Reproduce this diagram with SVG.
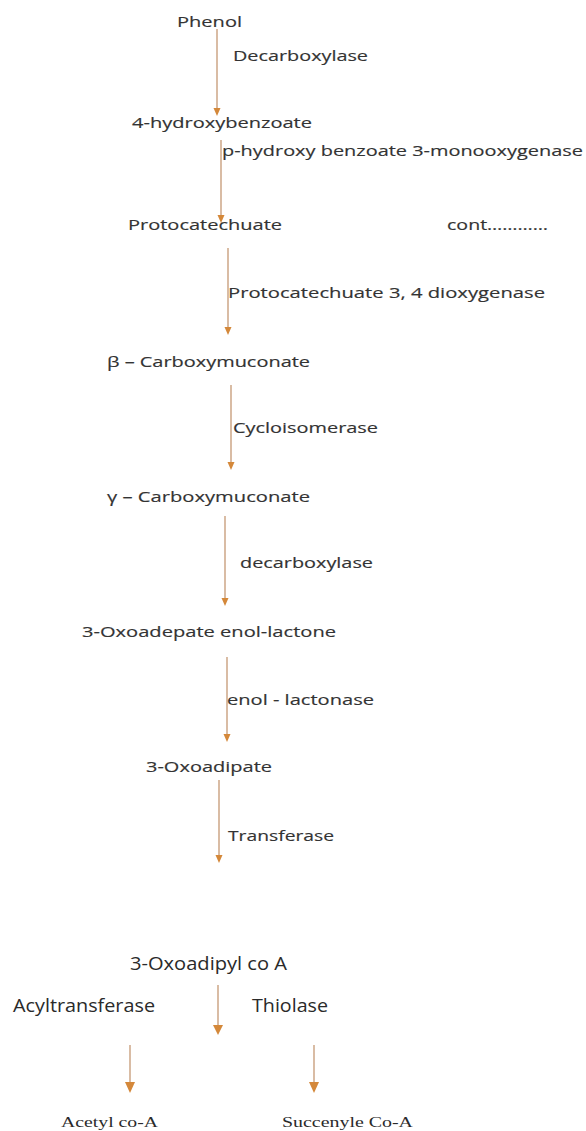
<svg xmlns="http://www.w3.org/2000/svg" width="586" height="1131" viewBox="0 0 586 1131">
<style>
  .t { font-family: "Open Sans", "Liberation Sans", sans-serif; font-size: 14px; fill: #333333; stroke: #333333; stroke-width: 0.15; }
  .tb { font-family: "Open Sans", "Liberation Sans", sans-serif; font-size: 18px; fill: #2a2a2a; }
  .ts { font-family: "Liberation Serif", "DejaVu Serif", serif; font-size: 15px; fill: #2a2a2a; }
  .ln { stroke: #c9a07e; stroke-width: 1.4; fill: none; }
  .hd { fill: #d4883a; }
</style>
<rect width="586" height="1131" fill="#ffffff"/>
<g id="connectors">
  <line class="ln" x1="217" y1="29" x2="217" y2="109"/><polygon class="hd" points="213.5,108 220.5,108 217,116"/>
  <line class="ln" x1="221" y1="140" x2="221" y2="216"/><polygon class="hd" points="217.5,215 224.5,215 221,223"/>
  <line class="ln" x1="228" y1="248" x2="228" y2="328"/><polygon class="hd" points="224.5,327 231.5,327 228,335"/>
  <line class="ln" x1="231" y1="385" x2="231" y2="463"/><polygon class="hd" points="227.5,462 234.5,462 231,470"/>
  <line class="ln" x1="225" y1="516" x2="225" y2="599"/><polygon class="hd" points="221.5,598 228.5,598 225,606"/>
  <line class="ln" x1="227" y1="657" x2="227" y2="735"/><polygon class="hd" points="223.5,734 230.5,734 227,742"/>
  <line class="ln" x1="219" y1="780" x2="219" y2="856"/><polygon class="hd" points="215.5,855 222.5,855 219,863"/>
  <line class="ln" x1="218" y1="985" x2="218" y2="1026"/><polygon class="hd" points="213,1025 223,1025 218,1035"/>
  <line class="ln" x1="130" y1="1045" x2="130" y2="1083"/><polygon class="hd" points="125,1082 135,1082 130,1093"/>
  <line class="ln" x1="314" y1="1045" x2="314" y2="1083"/><polygon class="hd" points="309,1082 319,1082 314,1093"/>
</g>
<g id="phenol"><text class="t" x="177" y="27" textLength="65" lengthAdjust="spacingAndGlyphs">Phenol</text></g>
<g id="lbl-decarboxylase1"><text class="t" x="233" y="61" textLength="135" lengthAdjust="spacingAndGlyphs">Decarboxylase</text></g>
<g id="hydroxybenzoate"><text class="t" x="132" y="128" textLength="180" lengthAdjust="spacingAndGlyphs">4-hydroxybenzoate</text></g>
<g id="lbl-monooxygenase"><text class="t" x="222" y="156" textLength="361" lengthAdjust="spacingAndGlyphs">p-hydroxy benzoate 3-monooxygenase</text></g>
<g id="protocatechuate"><text class="t" x="128" y="230" textLength="154" lengthAdjust="spacingAndGlyphs">Protocatechuate</text></g>
<g id="cont"><text class="t" x="447" y="230" textLength="101" lengthAdjust="spacingAndGlyphs">cont…………</text></g>
<g id="lbl-dioxygenase"><text class="t" x="228" y="298" textLength="317" lengthAdjust="spacingAndGlyphs">Protocatechuate 3, 4 dioxygenase</text></g>
<g id="beta-carboxymuconate"><text class="t" x="107" y="367" textLength="203" lengthAdjust="spacingAndGlyphs">β – Carboxymuconate</text></g>
<g id="lbl-cycloisomerase"><text class="t" x="233" y="433" textLength="145" lengthAdjust="spacingAndGlyphs">Cycloisomerase</text></g>
<g id="gamma-carboxymuconate"><text class="t" x="107" y="502" textLength="203" lengthAdjust="spacingAndGlyphs">γ – Carboxymuconate</text></g>
<g id="lbl-decarboxylase2"><text class="t" x="240" y="568" textLength="133" lengthAdjust="spacingAndGlyphs">decarboxylase</text></g>
<g id="enol-lactone"><text class="t" x="82" y="637" textLength="254" lengthAdjust="spacingAndGlyphs">3-Oxoadepate enol-lactone</text></g>
<g id="lbl-lactonase"><text class="t" x="227" y="705" textLength="147" lengthAdjust="spacingAndGlyphs">enol - lactonase</text></g>
<g id="oxoadipate"><text class="t" x="146" y="772" textLength="126" lengthAdjust="spacingAndGlyphs">3-Oxoadipate</text></g>
<g id="lbl-transferase"><text class="t" x="228" y="841" textLength="106" lengthAdjust="spacingAndGlyphs">Transferase</text></g>
<g id="oxoadipyl-coa"><text class="tb" x="130" y="970" textLength="157" lengthAdjust="spacingAndGlyphs">3-Oxoadipyl co A</text></g>
<g id="lbl-acyltransferase"><text class="tb" x="13" y="1012" textLength="142" lengthAdjust="spacingAndGlyphs">Acyltransferase</text></g>
<g id="lbl-thiolase"><text class="tb" x="252" y="1012" textLength="76" lengthAdjust="spacingAndGlyphs">Thiolase</text></g>
<g id="acetyl-coa"><text class="ts" x="61" y="1127" textLength="97" lengthAdjust="spacingAndGlyphs">Acetyl co-A</text></g>
<g id="succenyl-coa"><text class="ts" x="282" y="1127" textLength="131" lengthAdjust="spacingAndGlyphs">Succenyle Co-A</text></g>
</svg>
